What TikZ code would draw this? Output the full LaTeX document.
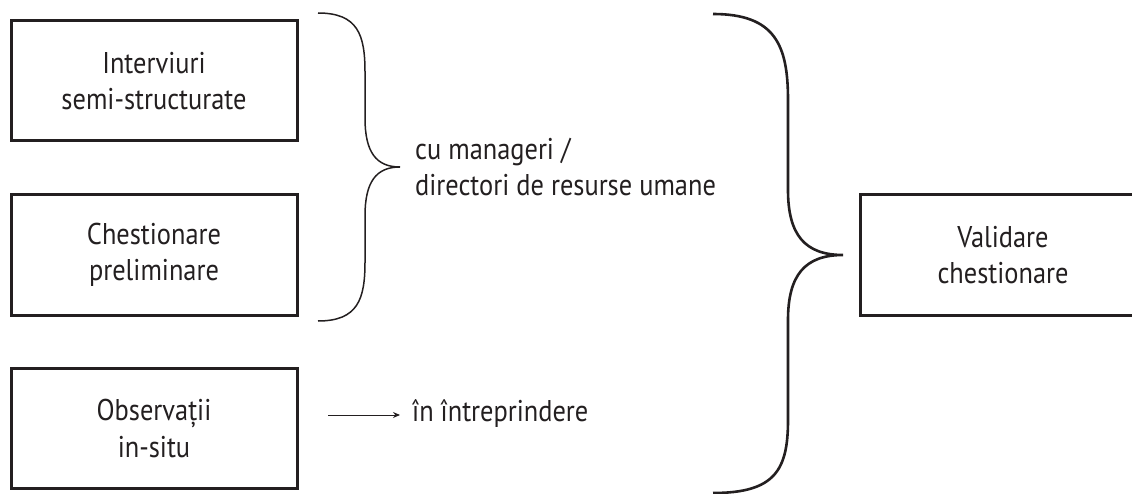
\documentclass[tikz,border=0pt]{standalone}
\usepackage{fontspec}
\setmainfont{PT Sans}[FakeStretch=0.88]
\usetikzlibrary{arrows.meta}
\definecolor{ink}{HTML}{231F20}
\tikzset{
  box/.style={draw=ink, line width=3pt, minimum width=286pt, minimum height=120pt, inner sep=0pt, align=center, text=ink, font=\fontsize{30}{36.5}\selectfont},
  label/.style={inner sep=0pt, align=left, anchor=west, text=ink, font=\fontsize{30}{35.5}\selectfont},
  bracethin/.style={draw=ink, line width=1.5pt},
  bracethick/.style={draw=ink, line width=2.6pt},
}
\begin{document}
\begin{tikzpicture}[x=1pt, y=-1pt]
\useasboundingbox (0,0) rectangle (1132,494);
\clip (0,0) rectangle (1132,494);
\node[box] (b1) at (154,81) {Interviuri\\semi-structurate};
\node[box] (b2) at (154,255) {Chestionare\\preliminare};
\node[box] (b3) at (154,428.5) {Observații\\in-situ};
\node[box] (b4) at (1003,255) {Validare\\chestionare};
% first brace
\coordinate (t1) at (318,13);
\coordinate (m1) at (400,167);
\coordinate (e1) at (318,321);
\draw[bracethin] (t1) .. controls (358,13) and (365,35) .. (365,72)
  -- (365,118) .. controls (365,152) and (376,167) .. (m1)
  .. controls (376,167) and (365,182) .. (365,216)
  -- (365,262) .. controls (365,299) and (358,321) .. (e1);
\node[label] (lab1) at (415,167) {cu manageri /\\directori de resurse umane};
% arrow
\coordinate (a0) at (328,415);
\node[label] (lab2) at (412,414) {în întreprindere};
\draw[draw=ink, line width=1pt, -{Stealth[length=7pt,width=6pt]}] (a0) -- ([xshift=-12pt]lab2.west |- a0);
% second brace
\coordinate (t2) at (713,14);
\coordinate (m2) at (843,255);
\coordinate (e2) at (713,493);
\draw[bracethick] (t2) .. controls (775,14) and (788,45) .. (788,100)
  -- (788,190) .. controls (788,235) and (805,255) .. (m2)
  .. controls (805,255) and (788,275) .. (788,320)
  -- (788,420) .. controls (788,470) and (775,493) .. (e2);
\end{tikzpicture}
\end{document}
